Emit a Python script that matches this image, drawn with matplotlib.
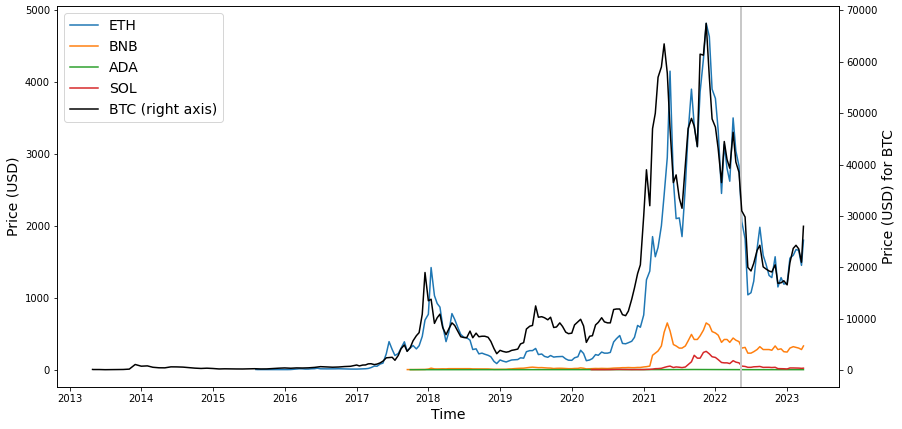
import matplotlib
matplotlib.use('Agg')
import matplotlib.pyplot as plt
import numpy as np
import pandas as pd

# values read off the chart, sampled on the 1st and 15th of each month
# (BTC monthly before 2017)
btc_values = [
    135, 120, 120, 90, 100, 130, 130, 200, 1100,                          # 2013 (from Apr 28)
    770, 830, 560, 460, 450, 640, 630, 590, 480, 390, 330, 380,           # 2014
    320, 230, 260, 240, 230, 225, 260, 280, 230, 240, 320, 380,           # 2015
    430, 370, 435, 415, 450, 535, 680, 620, 570, 610, 700, 750,           # 2016
    1000, 820, 990, 1010, 1220, 1250, 1080, 1180, 1420, 1750, 2400, 2450,
    2500, 1920, 2870, 4170, 4900, 3650, 4400, 5700, 6700, 7300, 10900, 19000,  # 2017
    13500, 13800, 9100, 10200, 10900, 8300, 6900, 8000, 9200, 8700, 7500, 6500,
    6350, 6300, 7600, 6300, 7200, 6500, 6600, 6600, 6400, 5600, 4200, 3200,    # 2018
    3850, 3650, 3500, 3600, 3850, 3950, 4100, 5100, 5350, 8000, 8550, 8700,
    12500, 10300, 10400, 10200, 9800, 10300, 8300, 8400, 9200, 8500, 7400, 7100,  # 2019
    7200, 8800, 9400, 9900, 8600, 5400, 6600, 6700, 8800, 9300, 10200, 9400,
    9200, 9200, 11800, 11900, 11900, 10800, 10600, 11500, 13800, 16000, 18800, 20500,  # 2020
    30000, 39000, 32000, 47000, 50000, 57000, 59000, 63500, 57800, 47000, 36500, 38000,
    33500, 31500, 40000, 47000, 49000, 47500, 43500, 61500, 61300, 67500, 57000, 48900,  # 2021
    47300, 43100, 36500, 44500, 41000, 39300, 46300, 40500, 38500, 31000, 29800, 20000,
    19300, 20800, 23300, 24300, 20100, 19700, 19300, 19100, 20500, 16900, 17000, 17400,  # 2022
    16600, 20900, 23700, 24300, 23600, 21000, 28000,                      # 2023
]

eth_values = [
    3.0, 1.5, 1.3, 0.9, 0.7, 0.5, 1.0, 0.9, 0.9, 0.9,                     # 2015 (from Aug 7)
    0.95, 1.2, 2.3, 5.2, 7.7, 12.6, 11.5, 8.4, 8.8, 12.5, 13.9, 20.6,
    12.4, 11.5, 11.3, 11.2, 12.2, 12.0, 13.2, 11.9, 10.9, 10.0, 8.5, 7.8,  # 2016
    8.2, 9.9, 10.7, 12.9, 17.0, 28.6, 50, 48, 79, 91, 222, 390,
    280, 197, 225, 300, 388, 260, 300, 336, 289, 333, 463, 690,            # 2017
    770, 1420, 1030, 920, 870, 610, 390, 520, 780, 700, 580, 490,
    450, 445, 410, 280, 290, 220, 230, 215, 200, 180, 115, 85,             # 2018
    135, 120, 107, 122, 135, 138, 141, 165, 160, 250, 265, 265,
    295, 210, 218, 185, 172, 197, 175, 180, 183, 184, 150, 132,            # 2019
    130, 165, 180, 270, 225, 125, 135, 155, 210, 200, 245, 230,
    230, 240, 385, 430, 475, 365, 360, 375, 395, 450, 615, 590,            # 2020
    760, 1250, 1370, 1850, 1570, 1700, 2000, 2430, 2950, 4150, 2630, 2100,
    2110, 1850, 2550, 3300, 3900, 3400, 3100, 3860, 4320, 4815, 4630, 3900,  # 2021
    3770, 3330, 2450, 3130, 2800, 2620, 3500, 3040, 2830, 2060, 1820, 1040,
    1070, 1230, 1680, 1980, 1590, 1470, 1310, 1280, 1570, 1150, 1280, 1190,  # 2022
    1200, 1550, 1590, 1670, 1660, 1450, 1800,                              # 2023
]

bnb_values = [
    1.5, 1.0, 1.4, 1.8, 1.9, 2.0, 3.6,                                    # 2017 (from Sep 16)
    8.7, 21, 11, 10, 11, 12, 11, 14, 14, 14, 15, 15,
    15, 14, 14, 11, 11, 10, 10, 10, 10, 7, 5, 5,                          # 2018
    6, 6, 6, 10, 11, 15, 18, 20, 21, 26, 32, 35,
    32, 28, 29, 26, 23, 22, 16, 19, 20, 19, 16, 14,                       # 2019
    14, 17, 18, 25, 20, 11, 13, 15, 17, 16, 18, 17,
    16, 18, 22, 23, 25, 28, 28, 30, 28, 28, 31, 31,                       # 2020
    38, 42, 50, 200, 230, 260, 330, 520, 650, 540, 350, 330,
    300, 300, 330, 400, 490, 420, 420, 470, 550, 650, 620, 530,           # 2021
    510, 480, 380, 420, 420, 380, 440, 410, 390, 300, 310, 230,
    230, 250, 280, 320, 280, 280, 280, 270, 330, 280, 290, 250,           # 2022
    245, 300, 320, 310, 300, 280, 330,                                    # 2023
]

ada_values = [
    0.03, 0.03, 0.03, 0.05, 0.13, 0.4,                                    # 2017 (from Oct 1)
    0.7, 0.7, 0.6, 0.35, 0.3, 0.2, 0.15, 0.25, 0.35, 0.25, 0.2, 0.15,
    0.15, 0.14, 0.12, 0.1, 0.1, 0.08, 0.08, 0.08, 0.08, 0.07, 0.04, 0.03,  # 2018
    0.04, 0.04, 0.04, 0.04, 0.05, 0.06, 0.08, 0.08, 0.07, 0.08, 0.09, 0.09,
    0.09, 0.07, 0.06, 0.05, 0.05, 0.05, 0.04, 0.04, 0.04, 0.04, 0.04, 0.03,  # 2019
    0.03, 0.04, 0.05, 0.07, 0.05, 0.03, 0.03, 0.03, 0.04, 0.05, 0.07, 0.08,
    0.09, 0.11, 0.14, 0.12, 0.11, 0.09, 0.1, 0.1, 0.1, 0.11, 0.17, 0.16,  # 2020
    0.18, 0.35, 0.4, 0.9, 1.1, 1.1, 1.2, 1.3, 1.3, 2.1, 1.7, 1.5,
    1.4, 1.2, 1.4, 2.0, 2.9, 2.4, 2.2, 2.2, 2.0, 2.0, 1.6, 1.3,           # 2021
    1.4, 1.4, 1.1, 1.1, 1.0, 0.9, 1.2, 1.0, 0.8, 0.5, 0.6, 0.5,
    0.47, 0.48, 0.55, 0.5, 0.45, 0.45, 0.43, 0.37, 0.4, 0.33, 0.32, 0.27,  # 2022
    0.25, 0.35, 0.38, 0.39, 0.35, 0.32, 0.37,                             # 2023
]

sol_values = [
    0.95, 0.65, 0.75, 0.6, 0.6, 0.55, 1.0, 1.2, 2.5, 3.7, 4.0, 3.3,
    2.8, 2.5, 1.5, 1.9, 2.0, 1.6,                                         # 2020 (from Apr 10)
    1.8, 3.5, 5, 8, 14, 15, 19, 31, 43, 50, 30, 38,
    34, 29, 37, 70, 110, 200, 160, 160, 240, 255, 220, 180,               # 2021
    170, 140, 100, 95, 95, 85, 125, 105, 95, 50, 45, 33,
    33, 40, 42, 45, 32, 33, 33, 30, 33, 15, 14, 13,                       # 2022
    10, 24, 24, 23, 22, 19, 21,                                           # 2023
]

last_day = '2023-03-25'
terra_crash = '2022-05-12'


def sample_dates(start, stop, first=None):
    days = list(pd.date_range(start, stop, freq='SMS'))
    if first is not None:
        days = [pd.Timestamp(first)] + days
    return pd.DatetimeIndex(days + [pd.Timestamp(last_day)])


btc_dates = pd.DatetimeIndex([pd.Timestamp('2013-04-28')]
                             + list(pd.date_range('2013-05-01', '2016-12-01', freq='MS'))
                             + list(pd.date_range('2017-01-01', '2023-03-15', freq='SMS'))
                             + [pd.Timestamp(last_day)])
eth_dates = sample_dates('2015-08-15', '2023-03-15', first='2015-08-07')
bnb_dates = sample_dates('2017-10-01', '2023-03-15', first='2017-09-16')
ada_dates = sample_dates('2017-10-01', '2023-03-15')
sol_dates = sample_dates('2020-04-15', '2023-03-15', first='2020-04-10')

fig = plt.figure(figsize=(902 / 72., 429 / 72.), dpi=72)
ax = fig.add_axes([57 / 902., 42 / 429., 782 / 902., 381 / 429.])

l1, = ax.plot(eth_dates, eth_values, color='C0', label='ETH')
l2, = ax.plot(bnb_dates, bnb_values, color='C1', label='BNB')
l3, = ax.plot(ada_dates, ada_values, color='C2', label='ADA')
l4, = ax.plot(sol_dates, sol_values, color='C3', label='SOL')
ax.axvline(pd.Timestamp(terra_crash), color='#c8c8c8', lw=2)

ax2 = ax.twinx()
l5, = ax2.plot(btc_dates, btc_values, color='k', label='BTC (right axis)')

ax.set_xlabel('Time', fontsize=14)
ax.set_ylabel('Price (USD)', fontsize=14)
ax2.set_ylabel('Price (USD) for BTC', fontsize=14)

lines = [l1, l2, l3, l4, l5]
ax.legend(lines, [l.get_label() for l in lines], loc='upper left', fontsize=14)

fig.savefig('out.png', dpi=72)
